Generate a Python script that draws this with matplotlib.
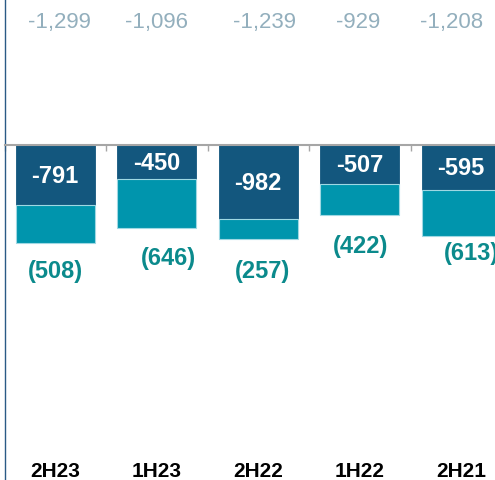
import numpy as np
import matplotlib
matplotlib.use('Agg')
import matplotlib.pyplot as plt
from matplotlib.transforms import blended_transform_factory

plt.rcParams['font.family'] = ['Liberation Sans', 'DejaVu Sans']

# data
periods = ['2H23', '1H23', '2H22', '1H22', '2H21']
dark_vals = [-791, -450, -982, -507, -595]
light_vals = [-508, -646, -257, -422, -613]
totals = [d + l for d, l in zip(dark_vals, light_vals)]

# label nudges (pixels), hand tuned to the reference
light_lbl_dx = [0, 12, 4, 1, 10]
light_lbl_dy = [-27, -30, -32, -30, -16]
tot_lbl_dx = [4, 0, 6, -2, -10]

c_dark = '#13577e'
c_light = '#0095ad'
c_light_txt = '#0b8a8c'
c_total = '#93afbd'

fig = plt.figure(figsize=(4.95, 4.81), dpi=100)
ax = fig.add_axes([4.5/495, 0, 507.5/495, 1])

x = np.arange(len(periods))
w = 0.78
ax.bar(x, dark_vals, w, color=c_dark, edgecolor=c_dark, lw=0.6, zorder=2)
ax.bar(x, light_vals, w, bottom=dark_vals, color=c_light, edgecolor='#9fd8e3', lw=0.8, zorder=2)

ax.set_xlim(-0.5, len(periods) - 0.5)
ax.set_ylim(-4448, 1948)

# zero line + small ticks at category borders
ax.spines['top'].set_visible(False)
ax.spines['right'].set_visible(False)
ax.spines['bottom'].set_position(('data', 0))
ax.spines['bottom'].set_color('#a6a6a6')
ax.spines['bottom'].set_linewidth(1.5)
ax.spines['bottom'].set_zorder(3)
ax.spines['left'].set_color('#2a5a85')
ax.spines['left'].set_linewidth(1.0)
ax.set_yticks([])
ax.set_xticks(np.arange(len(periods)) - 0.5)
ax.set_xticklabels([])
ax.tick_params(axis='x', length=4, width=1, color='#a6a6a6', direction='out')

tr = blended_transform_factory(ax.transData, ax.transAxes)
for i in range(len(periods)):
    # value inside dark segment
    ax.text(x[i], dark_vals[i] / 2, str(dark_vals[i]), color='white', fontsize=17,
            fontweight='bold', ha='center', va='center', zorder=4)
    # light segment value below bar
    ax.annotate('(%d)' % abs(light_vals[i]), (x[i], totals[i]),
                xytext=(light_lbl_dx[i] * 0.72, light_lbl_dy[i] * 0.72), textcoords='offset points',
                color=c_light_txt, fontsize=17, fontweight='bold', ha='center', va='center')
    # total at top
    ax.annotate('{:,}'.format(totals[i]), (x[i], 1 - 22.5/481), xycoords=tr,
                xytext=(tot_lbl_dx[i] * 0.72, 0), textcoords='offset points',
                color=c_total, fontsize=16, ha='center', va='center')
    # period label at bottom
    ax.text(x[i], 1 - 472/481, periods[i], transform=tr, color='black', fontsize=15,
            fontweight='bold', ha='center', va='center')

fig.savefig('out.png', dpi=100)
